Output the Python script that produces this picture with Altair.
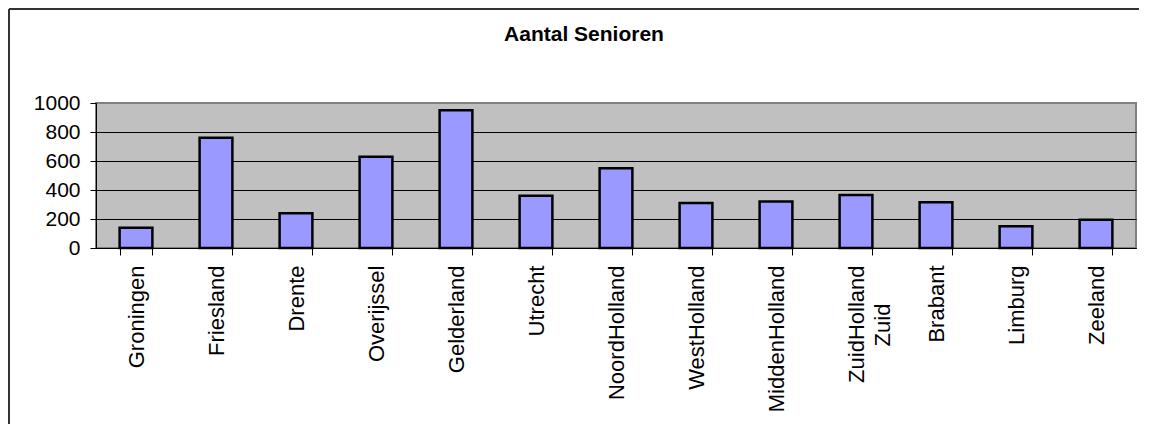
import altair as alt
import pandas as pd

provinces = ["Groningen", "Friesland", "Drente", "Overijssel", "Gelderland", "Utrecht",
             "NoordHolland", "WestHolland", "MiddenHolland", "ZuidHolland Zuid",
             "Brabant", "Limburg", "Zeeland"]
seniors = [140, 760, 240, 630, 950, 360, 550, 310, 320, 365, 315, 150, 195]
title_text = "Aantal Senioren"
y_ticks = [0, 200, 400, 600, 800, 1000]

FONT = "Liberation Sans"
df = pd.DataFrame({"provincie": provinces, "aantal": seniors})

pad = "\u00a0" + "\u2800" * 2
label_expr = ("datum.label == 'ZuidHolland Zuid' ? ['ZuidHolland', 'Zuid" + pad + "'] : datum.label")

bars = alt.Chart(df).mark_bar(color="#9999FF", stroke="black", strokeWidth=2.5).encode(
    x=alt.X("provincie:N", sort=provinces, title=None,
            scale=alt.Scale(paddingInner=0.59, paddingOuter=0.295),
            axis=alt.Axis(labelAngle=270, labelAlign="right", labelBaseline="middle",
                          labelFontSize=22, labelFont=FONT, labelColor="black",
                          tickBand="extent", tickSize=7, tickColor="black", tickWidth=1,
                          domainColor="black", domainWidth=1, labelPadding=10,
                          grid=False, labelExpr=label_expr, labelLineHeight=26,
                          labelLimit=0)),
    y=alt.Y("aantal:Q", title=None, scale=alt.Scale(domain=[0, 1000], nice=False),
            axis=alt.Axis(values=y_ticks, format="d", labelFontSize=21, labelFont=FONT,
                          labelColor="black", tickSize=6, tickColor="black", tickWidth=1,
                          domainColor="black", domainWidth=1, labelPadding=10,
                          grid=True, gridColor="black", gridWidth=1,
                          gridOpacity={"condition": {"test": "datum.value >= 1000", "value": 0},
                                       "value": 1})),
)

title = alt.Chart(pd.DataFrame({"t": [title_text]})).mark_text(
    font=FONT, fontSize=21, fontWeight="bold", color="black",
    align="center", baseline="alphabetic"
).encode(text="t:N", x=alt.value(488), y=alt.value(-62))

frame_top = alt.Chart(pd.DataFrame({"a": [0]})).mark_rule(color="#333333", strokeWidth=2).encode(
    x=alt.value(-87), x2=alt.value(1043), y=alt.value(-94))
frame_left = alt.Chart(pd.DataFrame({"a": [0]})).mark_rule(color="#333333", strokeWidth=2).encode(
    x=alt.value(-87), y=alt.value(-94), y2=alt.value(323))

chart = alt.layer(bars, title, frame_top, frame_left).properties(
    width=1040, height=145,
    autosize=alt.AutoSizeParams(type="none"),
    padding={"left": 88, "top": 95, "right": 3, "bottom": 176},
    background="white",
).configure_view(fill="#C0C0C0", stroke="#808080", strokeWidth=2)

chart.save("out.html", embed_options={"renderer": "svg", "actions": False})
